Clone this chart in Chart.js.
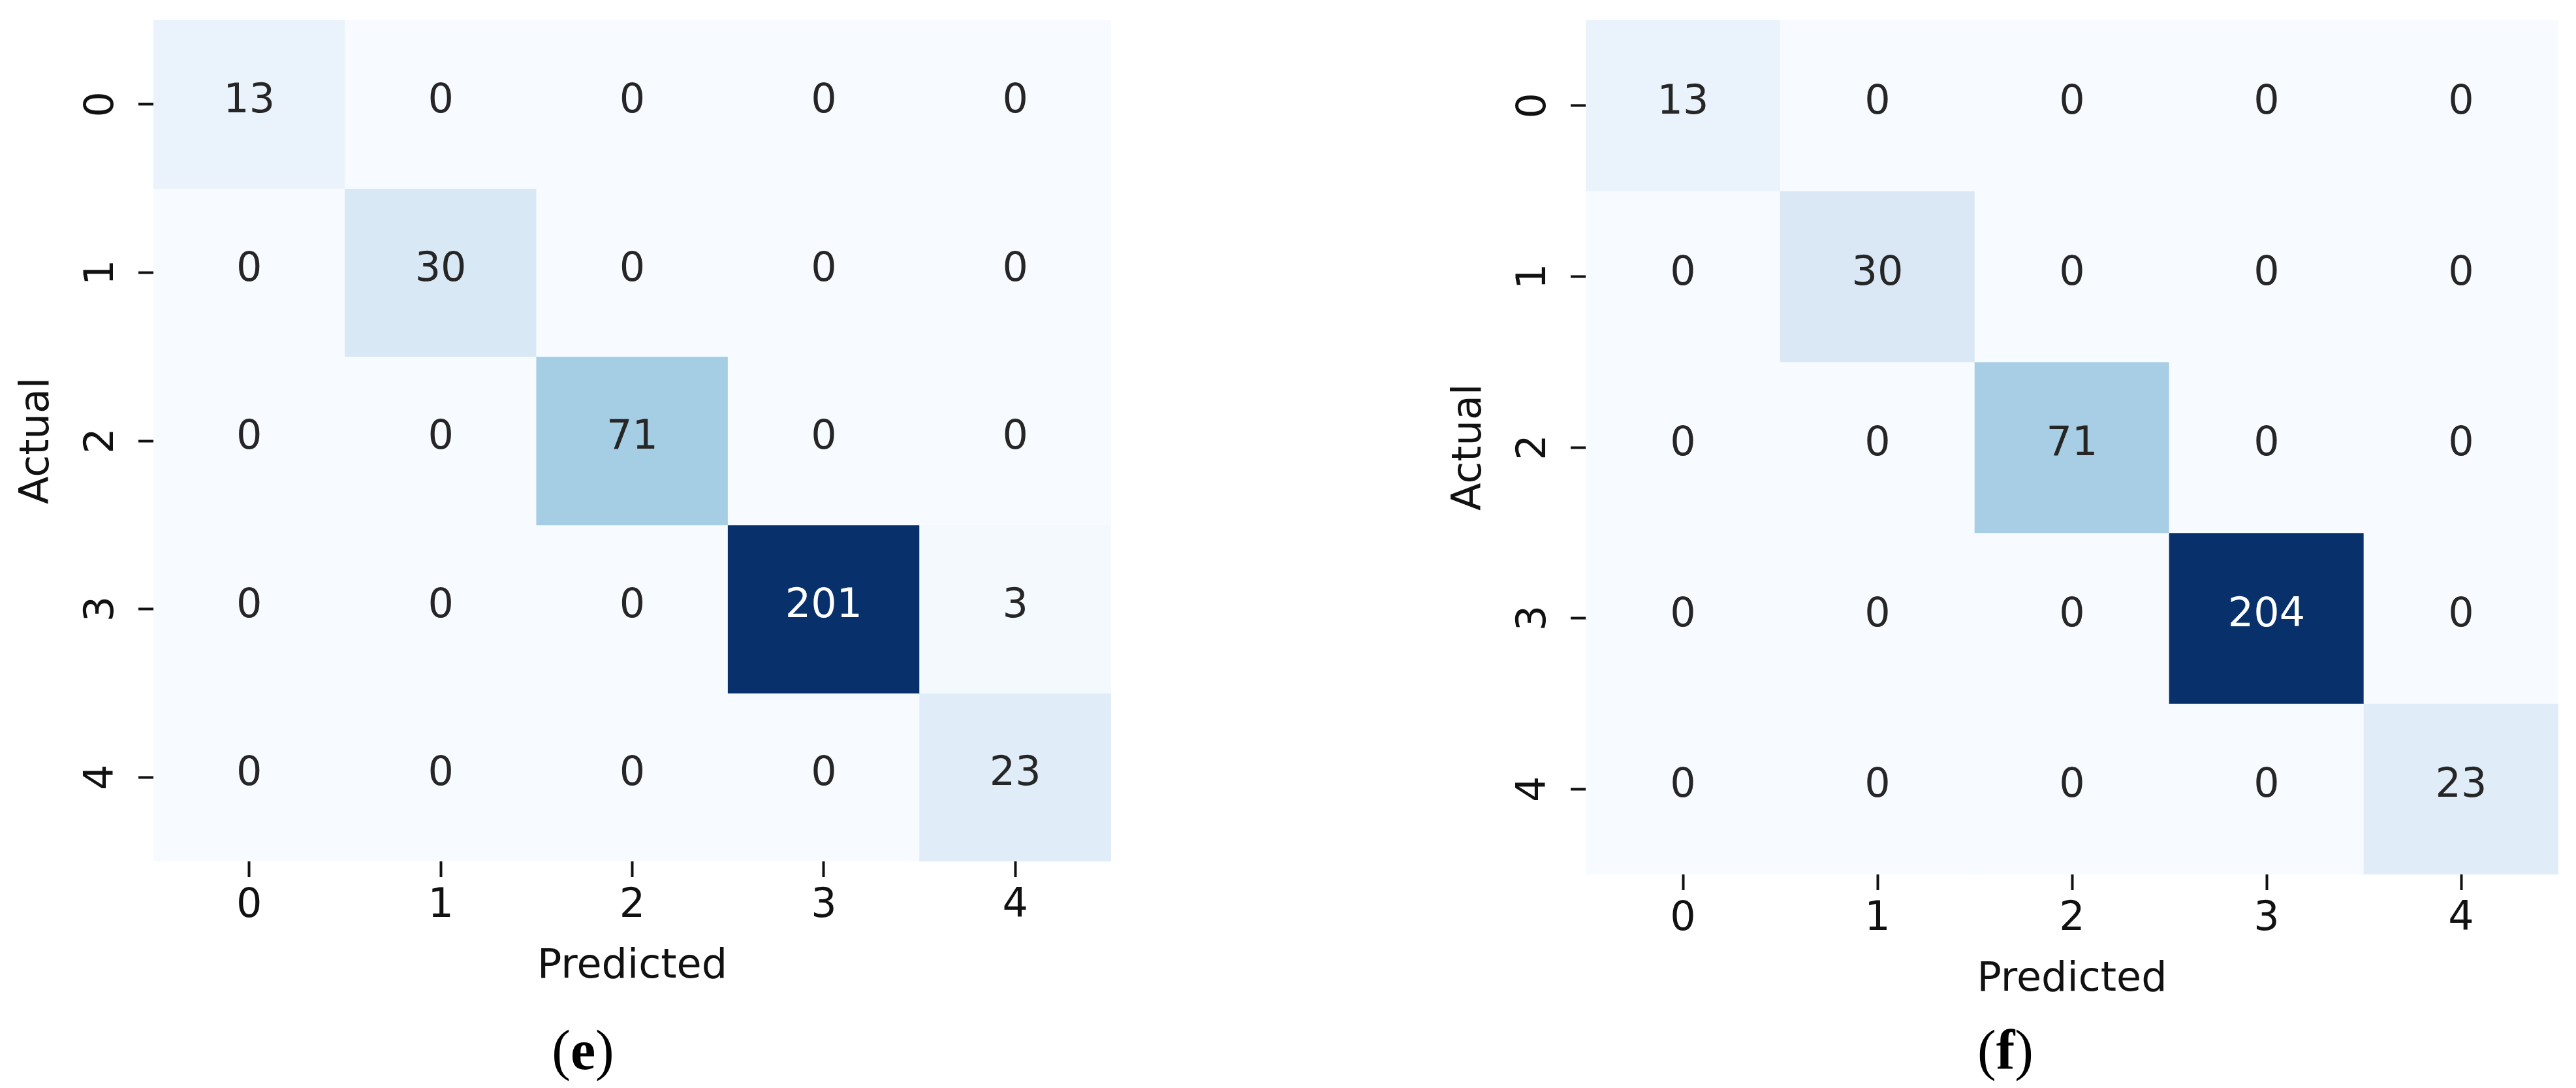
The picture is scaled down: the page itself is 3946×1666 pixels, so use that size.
<!DOCTYPE html>
<html>
<head>
<meta charset="utf-8">
<script src="https://cdn.jsdelivr.net/npm/chart.js@4.4.1/dist/chart.umd.min.js"></script>
<style>
  body { margin: 0; background: #fff; width: 3946px; height: 1666px; position: relative; overflow: hidden; }
  .panel { position: absolute; top: 0; height: 1560px; }
  .caption {
    position: absolute; top: 1565px; width: 400px; text-align: center;
    font-family: "Liberation Serif", "Times New Roman", serif; font-size: 86px; line-height: 1; color: #000;
  }
  .caption b { font-weight: bold; }
</style>
</head>
<body>
<div class="panel" style="left:0;width:1800px"><canvas id="chartE"></canvas></div>
<div class="panel" style="left:2194px;width:1752px"><canvas id="chartF"></canvas></div>
<div class="caption" style="left:693px">(<b>e</b>)</div>
<div class="caption" style="left:2872px">(<b>f</b>)</div>

<script>
// class labels shared by both axes
const classes = ["0", "1", "2", "3", "4"];

// confusion matrices, rows = actual, columns = predicted
const matrixE = [
  [13, 0, 0, 0, 0],
  [0, 30, 0, 0, 0],
  [0, 0, 71, 0, 0],
  [0, 0, 0, 201, 3],
  [0, 0, 0, 0, 23],
];
const matrixF = [
  [13, 0, 0, 0, 0],
  [0, 30, 0, 0, 0],
  [0, 0, 71, 0, 0],
  [0, 0, 0, 204, 0],
  [0, 0, 0, 0, 23],
];

const FONT = "'DejaVu Sans', sans-serif";
const INK = "#111111";

// matplotlib "Blues" colormap stops
const blues = [
  [247, 251, 255], [222, 235, 247], [198, 219, 239], [158, 202, 225], [107, 174, 214],
  [66, 146, 198], [33, 113, 181], [8, 81, 156], [8, 48, 107],
];

function bluesColor(t) {
  const p = Math.min(Math.max(t, 0), 1) * (blues.length - 1);
  const i = Math.min(Math.floor(p), blues.length - 2);
  const f = p - i;
  return blues[i].map((v, k) => Math.round(v + (blues[i + 1][k] - v) * f));
}

function luminance(rgb) {
  const c = rgb.map(v => {
    v = v / 255;
    return v <= 0.03928 ? v / 12.92 : Math.pow((v + 0.055) / 1.055, 2.4);
  });
  return 0.2126 * c[0] + 0.7152 * c[1] + 0.0722 * c[2];
}

function makeHeatmap(id, matrix, area) {
  const vmax = Math.max(...matrix.flat());
  const cellRgb = matrix.map(row => row.map(v => bluesColor(v / vmax)));
  const canvas = document.getElementById(id);
  const width = canvas.parentNode.clientWidth;
  const height = canvas.parentNode.clientHeight;
  const xAxisH = height - area.bottom;

  // writes the count in the middle of each cell
  const cellText = {
    id: "cellText",
    afterDatasetsDraw(chart) {
      const ctx = chart.ctx;
      ctx.save();
      ctx.font = "62px " + FONT;
      ctx.textAlign = "center";
      ctx.textBaseline = "middle";
      chart.data.datasets.forEach((ds, i) => {
        chart.getDatasetMeta(i).data.forEach((bar, j) => {
          const p = bar.getCenterPoint();
          ctx.fillStyle = luminance(cellRgb[i][j]) > 0.408 ? "#262626" : "#ffffff";
          ctx.fillText(String(matrix[i][j]), p.x, p.y - 4);
        });
      });
      ctx.restore();
    },
  };

  new Chart(canvas, {
    type: "bar",
    data: {
      labels: classes,
      datasets: matrix.map((row, i) => ({
        label: "Actual " + classes[i],
        data: row.map(() => 1), // each cell is one unit tall
        backgroundColor: cellRgb[i].map(c => "rgb(" + c.join(",") + ")"),
        borderWidth: 0,
        barPercentage: 1,
        categoryPercentage: 1,
      })),
    },
    options: {
      responsive: true,
      maintainAspectRatio: false,
      animation: false,
      layout: { padding: { top: 31, right: width - area.right, bottom: 0, left: 0 } },
      plugins: {
        legend: { display: false },
        tooltip: { enabled: false },
      },
      scales: {
        x: {
          type: "category",
          stacked: true,
          offset: true,
          border: { display: false },
          grid: {
            drawOnChartArea: false,
            drawTicks: true,
            offset: false,
            tickLength: 24,
            tickWidth: 4,
            tickColor: INK,
          },
          ticks: { font: { family: FONT, size: 62 }, color: INK, padding: 8, minRotation: 0, maxRotation: 0 },
          title: {
            display: true,
            text: "Predicted",
            font: { family: FONT, size: 62 },
            color: INK,
            padding: { top: 0, bottom: xAxisH - 162 - 37 },
          },
          afterFit: (scale) => {
            scale.height = xAxisH;
            scale.paddingLeft = 0;
            scale.paddingRight = 0;
          },
        },
        y: {
          type: "linear",
          min: 0,
          max: classes.length,
          reverse: true,
          stacked: true,
          border: { display: false },
          grid: {
            drawOnChartArea: false,
            drawTicks: true,
            tickLength: 23,
            tickWidth: 4,
            tickColor: INK,
          },
          afterBuildTicks: (scale) => {
            scale.ticks = classes.map((c, i) => ({ value: i + 0.5 }));
          },
          ticks: {
            callback: (v, i) => classes[i],
            font: { family: FONT, size: 62 },
            color: INK,
            padding: 35,
            minRotation: 90,
            maxRotation: 90,
            crossAlign: "center",
          },
          title: {
            display: true,
            text: "Actual",
            font: { family: FONT, size: 62 },
            color: INK,
            padding: { top: 21, bottom: 0 },
          },
          afterFit: (scale) => {
            scale.width = 235;
            scale.paddingTop = 0;
            scale.paddingBottom = 0;
          },
        },
      },
    },
    plugins: [cellText],
  });
}

makeHeatmap("chartE", matrixE, { right: 1702, bottom: 1319 });
makeHeatmap("chartF", matrixF, { right: 1725, bottom: 1339 });
</script>
</body>
</html>
